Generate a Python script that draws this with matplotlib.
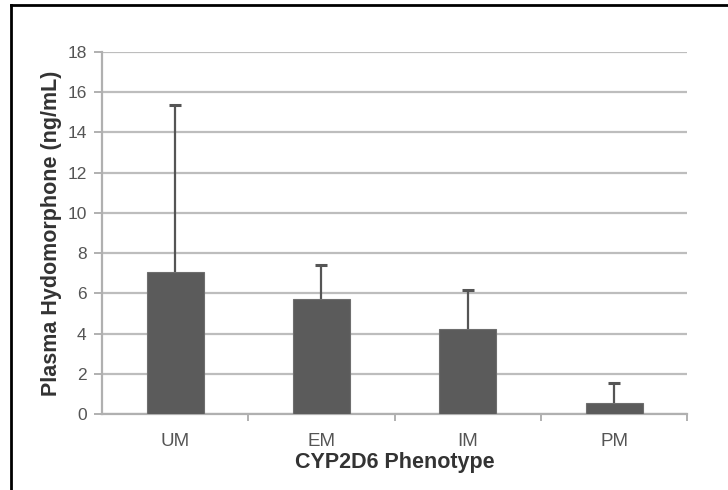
import matplotlib.pyplot as plt
from matplotlib.lines import Line2D

phenotypes = ['UM', 'EM', 'IM', 'PM']
means = [7.05, 5.72, 4.21, 0.56]
err_upper = [8.32, 1.69, 1.96, 0.98]

plt.rcParams['font.family'] = ['Liberation Sans', 'DejaVu Sans']

fig = plt.figure(figsize=(7.28, 4.90), dpi=100)
ax = fig.add_axes([0.140, 0.155, 0.804, 0.739])

x = list(range(len(phenotypes)))
tops = [m + e for m, e in zip(means, err_upper)]
ax.bar(x, means, width=0.39, color='#5b5b5b', edgecolor='#6e6e6e', linewidth=0.8, zorder=3)
ax.vlines(x, means, tops, color='#555555', linewidth=1.6, zorder=4)
ax.plot(x, tops, linestyle='none', marker='_', markersize=9, markeredgewidth=2.2,
        color='#555555', zorder=4)

ax.set_xlim(-0.5, 3.5)
ax.set_ylim(0, 18)
ax.set_yticks(range(0, 19, 2))
ax.set_xticks(x)
ax.set_xticklabels(phenotypes)
ax.set_xticks([0.5, 1.5, 2.5, 3.5], minor=True)

ax.yaxis.grid(True, color='#bdbdbd', linewidth=1.6, zorder=0)
ax.set_axisbelow(True)
for s in ['top', 'right']:
    ax.spines[s].set_visible(False)
for s in ['left', 'bottom']:
    ax.spines[s].set_color('#b0b0b0')
    ax.spines[s].set_linewidth(1.6)

ax.tick_params(axis='y', colors='#b0b0b0', labelcolor='#555555', labelsize=12.5,
               length=6, width=1.4, direction='out', pad=5)
ax.tick_params(axis='x', which='major', length=0, labelcolor='#555555', labelsize=13.5, pad=14)
ax.tick_params(axis='x', which='minor', length=5, width=1.4, color='#b0b0b0', direction='out')

ax.set_ylabel('Plasma Hydomorphone (ng/mL)', fontsize=15.5, fontweight='bold', color='#333333', labelpad=4)
ax.set_xlabel('CYP2D6 Phenotype', fontsize=15.5, fontweight='bold', color='#333333', labelpad=1)

# outer frame (left and top)
fig.add_artist(Line2D([11 / 728, 11 / 728], [0, 1 - 5 / 490], color='black', linewidth=2))
fig.add_artist(Line2D([11 / 728, 1], [1 - 5 / 490, 1 - 5 / 490], color='black', linewidth=2))

fig.savefig('out.png', dpi=100)
